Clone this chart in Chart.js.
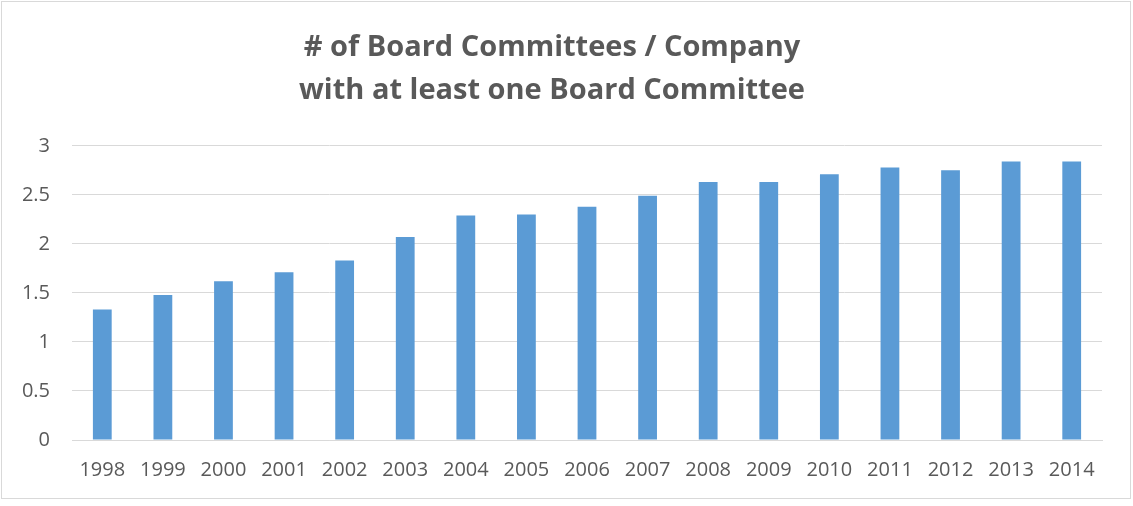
<!DOCTYPE html>
<html>
<head>
<meta charset="utf-8">
<script src="https://cdn.jsdelivr.net/npm/chart.js@4/dist/chart.umd.min.js"></script>
<style>
  html, body { margin: 0; padding: 0; background: #fff; }
  #wrap {
    position: absolute; left: 1px; top: 1px;
    width: 1128px; height: 496px;
    border: 1px solid #d9d9d9;
    background: #fff;
  }
</style>
</head>
<body>
<div id="wrap"><canvas id="boardChart"></canvas></div>
<script>
const years = ["1998", "1999", "2000", "2001", "2002", "2003", "2004", "2005", "2006",
    "2007", "2008", "2009", "2010", "2011", "2012", "2013", "2014"];
const committeesPerCompany = [1.33, 1.48, 1.62, 1.71, 1.83, 2.07, 2.29, 2.30, 2.38,
    2.49, 2.63, 2.63, 2.71, 2.78, 2.75, 2.84, 2.84];
const titleLines = ["# of Board Committees / Company", "with at least one Board Committee"];

const textColor = "#595959";
const gridColor = "#d9d9d9";

new Chart(document.getElementById("boardChart"), {
    type: "bar",
    data: {
        labels: years,
        datasets: [{
            label: "Committees",
            data: committeesPerCompany,
            backgroundColor: "#5b9bd5",
            categoryPercentage: 1,
            barPercentage: 0.31
        }]
    },
    options: {
        responsive: true,
        maintainAspectRatio: false,
        animation: false,
        layout: { padding: { left: 0, right: 28, top: 0, bottom: 0 } },
        plugins: {
            legend: { display: false },
            tooltip: { enabled: false },
            title: {
                display: true,
                text: titleLines,
                color: textColor,
                font: { family: "'Open Sans', sans-serif", size: 29, weight: "bold", lineHeight: 1.48 },
                padding: { top: 24, bottom: 34 }
            }
        },
        scales: {
            x: {
                grid: { display: false, drawTicks: false },
                border: { color: gridColor },
                ticks: {
                    color: textColor,
                    font: { family: "'Open Sans', sans-serif", size: 20 },
                    padding: 18,
                    maxRotation: 0
                },
                afterFit(scale) { scale.height = 58; }
            },
            y: {
                min: 0,
                max: 3,
                ticks: {
                    stepSize: 0.5,
                    color: textColor,
                    font: { family: "'Open Sans', sans-serif", size: 20 },
                    padding: 22,
                    callback: (value) => String(value)
                },
                grid: { color: gridColor, drawTicks: false },
                border: { display: false },
                afterFit(scale) { scale.width = 70; }
            }
        }
    }
});
</script>
</body>
</html>
